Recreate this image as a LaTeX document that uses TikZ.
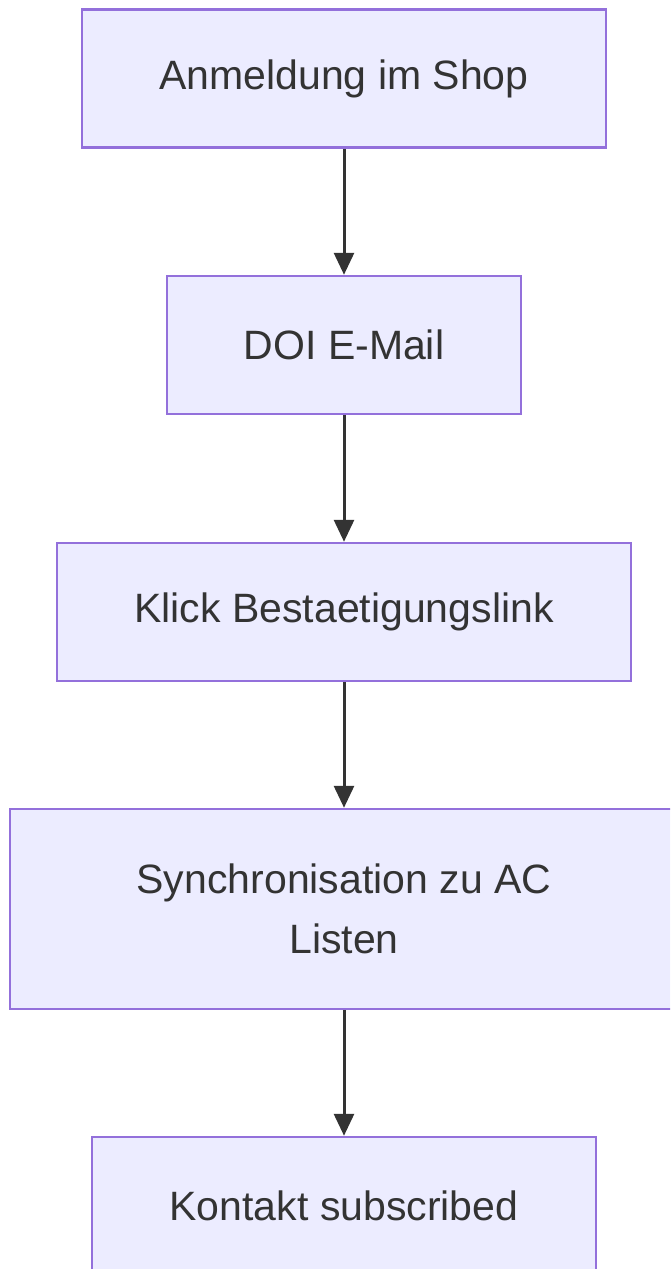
\documentclass[tikz,border=0pt]{standalone}
\usepackage{fontspec}
\setmainfont{Liberation Sans}
\usepackage{tikz}
\usetikzlibrary{arrows.meta}
\definecolor{boxfill}{HTML}{ECECFF}
\definecolor{boxline}{HTML}{9370DB}
\definecolor{ink}{HTML}{333333}
\tikzstyle{block} = [draw=boxline, fill=boxfill, rectangle, line width=2.5pt,
    text=ink, align=center, minimum height=138pt,
    font=\fontsize{41}{60}\selectfont]
\tikzstyle{link} = [draw=ink, line width=3pt, -{Triangle[length=22pt,width=20pt]}]

\begin{document}
\begin{tikzpicture}[x=1pt, y=1pt, node distance=267pt]
\useasboundingbox (0,0) rectangle (670,-1269);
\clip (0,0) rectangle (670,-1269);
% Blocks
	\node [block, minimum width=524pt] (Anm) at (344,-78.5) {Anmeldung im Shop};
	\node [block, below of=Anm, node distance=266.5pt, minimum width=354pt] (DOI) {DOI E-Mail};
	\node [block, below of=DOI, node distance=267pt, minimum width=574pt] (Klick) {Klick Bestaetigungslink};
	\node [block, below of=Klick, node distance=297pt, minimum width=668pt, minimum height=200pt] (Sync) {Synchronisation zu AC\\Listen};
	\node [block, below of=Sync, node distance=297pt, minimum width=504pt] (Kont) {Kontakt subscribed};
% Arrows
	\draw [link] (Anm) -- (DOI);
	\draw [link] (DOI) -- (Klick);
	\draw [link] (Klick) -- (Sync);
	\draw [link] (Sync) -- (Kont);
\end{tikzpicture}
\end{document}
